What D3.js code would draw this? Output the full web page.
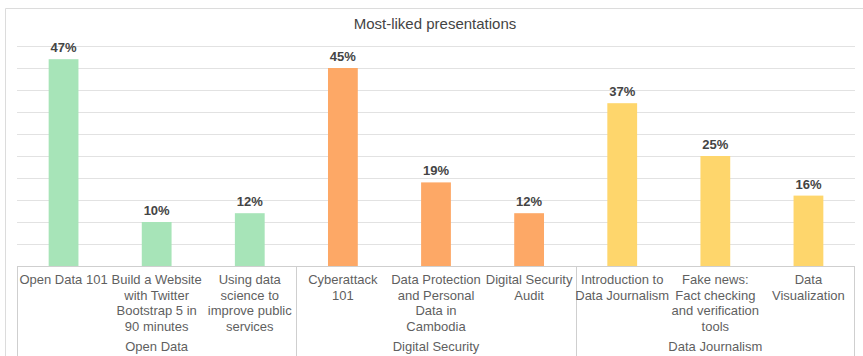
<!DOCTYPE html>
<html>
<head>
<meta charset="utf-8">
<script src="https://d3js.org/d3.v7.min.js"></script>
<style>
  body { margin: 0; background: #fff; }
  text { font-family: "Liberation Sans", Arial, sans-serif; }
</style>
</head>
<body>
<script>
var width = 863;
var height = 356;

// data
var categories = [
    "Open Data 101",
    "Build a Website\nwith Twitter\nBootstrap 5 in\n90 minutes",
    "Using data\nscience to\nimprove public\nservices",
    "Cyberattack\n101",
    "Data Protection\nand Personal\nData in\nCambodia",
    "Digital Security\nAudit",
    "Introduction to\nData Journalism",
    "Fake news:\nFact checking\nand verification\ntools",
    "Data\nVisualization"
];
var groups = ["Open Data", "Open Data", "Open Data",
              "Digital Security", "Digital Security", "Digital Security",
              "Data Journalism", "Data Journalism", "Data Journalism"];
var values = [47, 10, 12, 45, 19, 12, 37, 25, 16];
var groupNames = ["Open Data", "Digital Security", "Data Journalism"];
var groupColors = ["#a7e4b8", "#fda866", "#fed66c"];
var yTicks = [0, 5, 10, 15, 20, 25, 30, 35, 40, 45, 50];

var plotLeft = 17, plotRight = 855, plotTop = 46, plotBottom = 266;

var svg = d3.select("body").append("svg")
    .attr("width", width)
    .attr("height", height);

var x = d3.scaleBand()
    .domain(d3.range(categories.length))
    .range([plotLeft, plotRight]);

var y = d3.scaleLinear()
    .domain([0, 50])
    .range([plotBottom, plotTop]);

var color = d3.scaleOrdinal()
    .domain(groupNames)
    .range(groupColors);

// outer frame
svg.append("path")
    .attr("d", "M5.5," + height + "V8.5H" + width)
    .attr("fill", "none")
    .attr("stroke", "#dcdcdc");

svg.append("text")
    .attr("x", 435)
    .attr("y", 29)
    .attr("text-anchor", "middle")
    .attr("font-size", 15)
    .attr("fill", "#444")
    .text("Most-liked presentations");

// gridlines
svg.selectAll(".grid")
    .data(yTicks.slice(1))
  .enter().append("line")
    .attr("class", "grid")
    .attr("x1", plotLeft)
    .attr("x2", plotRight)
    .attr("y1", d => Math.round(y(d)) + 0.5)
    .attr("y2", d => Math.round(y(d)) + 0.5)
    .attr("stroke", "#e2e2e2")
    .attr("stroke-width", 1.2);

var barW = x.bandwidth() * 0.32;

svg.selectAll(".bar")
    .data(values)
  .enter().append("rect")
    .attr("class", "bar")
    .attr("x", (d, i) => x(i) + (x.bandwidth() - barW) / 2)
    .attr("y", d => y(d))
    .attr("width", barW)
    .attr("height", d => y(0) - y(d))
    .attr("fill", (d, i) => color(groups[i]));

svg.selectAll(".val")
    .data(values)
  .enter().append("text")
    .attr("class", "val")
    .attr("x", (d, i) => x(i) + x.bandwidth() / 2)
    .attr("y", d => y(d) - 7)
    .attr("text-anchor", "middle")
    .attr("font-size", 13)
    .attr("font-weight", "bold")
    .attr("fill", "#444")
    .text(d => d + "%");

// label box
var lineColor = "#cfcfcf";
svg.append("line")
    .attr("x1", plotLeft).attr("x2", plotRight - 0.5)
    .attr("y1", Math.round(y(0)) + 0.5).attr("y2", Math.round(y(0)) + 0.5)
    .attr("stroke", lineColor);

var groupStarts = [];
groups.forEach(function(g, i) {
    if (i === 0 || groups[i - 1] !== g) groupStarts.push(i);
});
var seps = groupStarts.map(i => x(i)).concat([plotRight - 1]);

svg.selectAll(".sep")
    .data(seps)
  .enter().append("line")
    .attr("class", "sep")
    .attr("x1", d => Math.round(d) + 0.5)
    .attr("x2", d => Math.round(d) + 0.5)
    .attr("y1", Math.round(y(0)))
    .attr("y2", height)
    .attr("stroke", lineColor);

var labels = svg.selectAll(".cat")
    .data(categories)
  .enter().append("text")
    .attr("class", "cat")
    .attr("text-anchor", "middle")
    .attr("font-size", 13)
    .attr("fill", "#5f5f5f");

labels.each(function(d, i) {
    var t = d3.select(this);
    d.split("\n").forEach(function(line, k) {
        t.append("tspan")
            .attr("x", x(i) + x.bandwidth() / 2)
            .attr("y", 284 + k * 15.5)
            .text(line);
    });
});

svg.selectAll(".grp")
    .data(groupNames)
  .enter().append("text")
    .attr("class", "grp")
    .attr("x", function(g) {
        var idx = d3.range(groups.length).filter(i => groups[i] === g);
        return (x(idx[0]) + x(idx[idx.length - 1]) + x.bandwidth()) / 2;
    })
    .attr("y", 351)
    .attr("text-anchor", "middle")
    .attr("font-size", 13)
    .attr("fill", "#5f5f5f")
    .text(d => d);
</script>
</body>
</html>
